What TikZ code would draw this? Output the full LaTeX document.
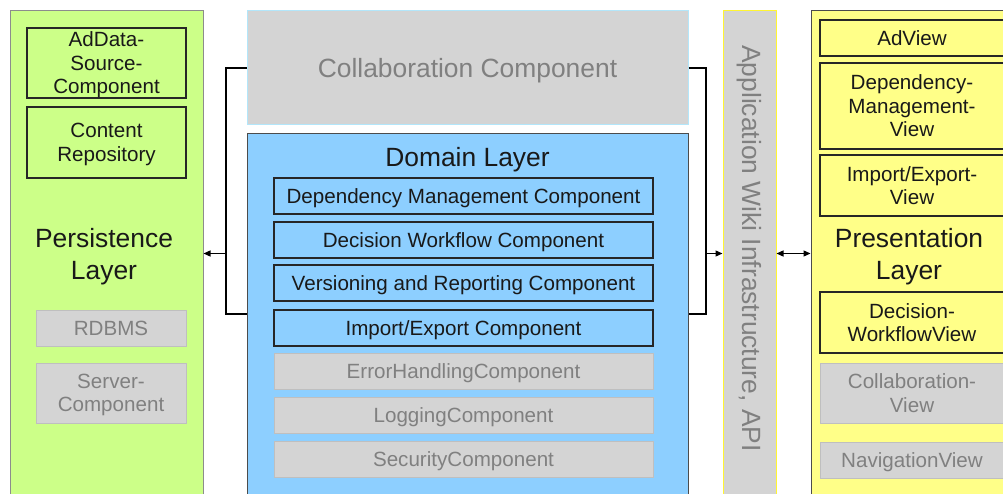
\documentclass[tikz,border=0pt]{standalone}
\usepackage{fontspec}
\setmainfont{Liberation Sans}
\usetikzlibrary{arrows.meta}
\definecolor{pgreen}{HTML}{CCFF88}
\definecolor{pblue}{HTML}{8DCFFF}
\definecolor{pyellow}{HTML}{FFFF88}
\definecolor{pgray}{HTML}{D4D4D4}
\definecolor{pgraytext}{HTML}{808080}
\tikzset{
  panel/.style={draw=#1, line width=1pt, inner sep=0pt},
  comp/.style={draw=black!85, line width=1.2pt, inner sep=0pt, align=center, text depth=0pt,
    font=\fontsize{20.6}{23.5}\selectfont, text=black!90},
  gcomp/.style={draw=black!25, fill=pgray, line width=1pt, inner sep=0pt, align=center, text depth=0pt,
    font=\fontsize{20.6}{23.5}\selectfont, text=pgraytext},
  ttl/.style={align=center, font=\fontsize{26.4}{32}\selectfont, text=black!90, inner sep=0pt, text depth=0pt},
  conn/.style={line width=1.2pt, black},
  arr/.style={conn, -{Triangle[length=7pt,width=6pt]}},
  arrtwo/.style={conn, {Triangle[length=7pt,width=6pt]}-{Triangle[length=7pt,width=6pt]}}
}
\begin{document}
\begin{tikzpicture}[x=1pt,y=-1pt]
\useasboundingbox (0,0) rectangle (1003,494);
\clip (0,0) rectangle (1003,494);
\fill[white] (0,0) rectangle (1003,494);

% Persistence layer
\node[panel=black!45, fill=pgreen, minimum width=193pt, minimum height=485pt] (persist) at (106.5,253.5) {};
\node[comp, fill=pgreen, minimum width=159pt, minimum height=70pt] (adds) at (106.5,63) {AdData-\\Source-\\Component};
\node[comp, fill=pgreen, minimum width=159pt, minimum height=71pt] (content) at (106.5,142.5) {Content\\Repository};
\node[ttl] (ptitle) at (104,254) {Persistence\\Layer};
\node[gcomp, minimum width=150pt, minimum height=36pt] (rdbms) at (111,328) {RDBMS};
\node[gcomp, minimum width=150pt, minimum height=60pt] (server) at (111,393) {Server-\\Component};

% Collaboration component
\node[panel=cyan!30, fill=pgray, minimum width=441pt, minimum height=114pt, text depth=0pt,
      font=\fontsize{26.4}{32}\selectfont, text=pgraytext] (collab) at (467.5,68) {Collaboration Component};

% Domain layer
\node[panel=black!70, fill=pblue, minimum width=441pt, minimum height=362pt] (domain) at (467.5,315) {};
\node[ttl] (dtitle) at (467.5,157) {Domain Layer};
\node[comp, fill=pblue, minimum width=379pt, minimum height=36pt] (dmc) at (463.5,196) {Dependency Management Component};
\node[comp, fill=pblue, minimum width=379pt, minimum height=36pt] (dwc) at (463.5,240) {Decision Workflow Component};
\node[comp, fill=pblue, minimum width=379pt, minimum height=36pt] (vrc) at (463.5,283) {Versioning and Reporting Component};
\node[comp, fill=pblue, minimum width=379pt, minimum height=36pt] (iec) at (463.5,328) {Import/Export Component};
\node[gcomp, minimum width=379pt, minimum height=36pt] (ehc) at (463.5,371) {ErrorHandlingComponent};
\node[gcomp, minimum width=379pt, minimum height=36pt] (lgc) at (463.5,415) {LoggingComponent};
\node[gcomp, minimum width=379pt, minimum height=36pt] (scc) at (463.5,459) {SecurityComponent};

% Wiki infrastructure
\node[panel=yellow!80, fill=pgray, minimum width=53pt, minimum height=485pt] (wiki) at (749.5,253.5) {};
\node[rotate=-90, font=\fontsize{26.4}{32}\selectfont, text=pgraytext, inner sep=0pt] (wikitext) at (749.5,248.5) {Application Wiki Infrastructure, API};

% Presentation layer
\node[panel=black!70, fill=pyellow, minimum width=202pt, minimum height=485pt] (present) at (912,253.5) {};
\node[comp, fill=pyellow, minimum width=184pt, minimum height=36pt] (adview) at (912,38) {AdView};
\node[comp, fill=pyellow, minimum width=184pt, minimum height=86pt] (dmv) at (912,106) {Dependency-\\Management-\\View};
\node[comp, fill=pyellow, minimum width=184pt, minimum height=61pt] (iev) at (912,185.5) {Import/Export-\\View};
\node[ttl] (prtitle) at (909,254) {Presentation\\Layer};
\node[comp, fill=pyellow, minimum width=184pt, minimum height=61pt] (dwv) at (912,322.5) {Decision-\\WorkflowView};
\node[gcomp, minimum width=184pt, minimum height=60pt] (cview) at (912,393) {Collaboration-\\View};
\node[gcomp, minimum width=184pt, minimum height=36pt] (nav) at (912,460) {NavigationView};

% Connectors
\coordinate (lb) at (226,314);
\coordinate (lm) at (226,253.5);
\coordinate (rb) at (706,314);
\coordinate (rm) at (706,253.5);
\draw[conn] (collab.west) -| (lb) -- (lb -| domain.west);
\draw[conn] (collab.east) -| (rb) -- (rb -| domain.east);
\draw[arr] (lm) -- (persist.east);
\draw[arr] (rm) -- (wiki.west);
\draw[arrtwo] (wiki.east) -- (present.west);
\end{tikzpicture}
\end{document}
